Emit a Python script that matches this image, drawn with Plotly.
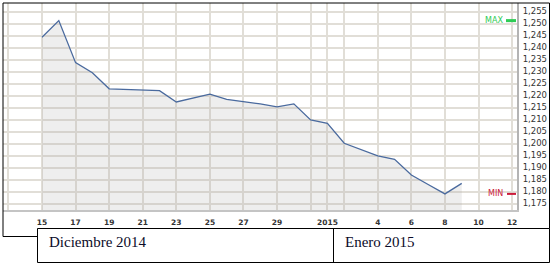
import plotly.graph_objects as go

# ---- data ----
dates = ["2014-12-15", "2014-12-16", "2014-12-17", "2014-12-18", "2014-12-19",
         "2014-12-20", "2014-12-21", "2014-12-22", "2014-12-23", "2014-12-24",
         "2014-12-25", "2014-12-26", "2014-12-27", "2014-12-28", "2014-12-29",
         "2014-12-30", "2014-12-31", "2015-01-01", "2015-01-02", "2015-01-03",
         "2015-01-04", "2015-01-05", "2015-01-06", "2015-01-07", "2015-01-08",
         "2015-01-09"]
values = [1.2443, 1.2512, 1.2337, 1.2295, 1.2228,
          1.2226, 1.2225, 1.2220, 1.2173, 1.2190,
          1.2206, 1.2184, 1.2176, 1.2165, 1.2153,
          1.2165, 1.2098, 1.2084, 1.2001, 1.1974,
          1.1948, 1.1934, 1.1869, 1.1829, 1.1790,
          1.1834]

x_tick_dates = ["2014-12-13", "2014-12-15", "2014-12-17", "2014-12-19", "2014-12-21",
                "2014-12-23", "2014-12-25", "2014-12-27", "2014-12-29", "2014-12-31",
                "2015-01-01", "2015-01-02", "2015-01-04", "2015-01-06", "2015-01-08",
                "2015-01-10", "2015-01-12"]
x_tick_labels = ["", "15", "17", "19", "21", "23", "25", "27", "29", "",
                 "2015", "", "4", "6", "8", "10", "12"]

y_tick_values = [1.175, 1.180, 1.185, 1.190, 1.195, 1.200, 1.205, 1.210, 1.215,
                 1.220, 1.225, 1.230, 1.235, 1.240, 1.245, 1.250, 1.255]
y_tick_labels = ["1,175", "1,180", "1,185", "1,190", "1,195", "1,200", "1,205",
                 "1,210", "1,215", "1,220", "1,225", "1,230", "1,235", "1,240",
                 "1,245", "1,250", "1,255"]

month_labels = ["Diciembre 2014", "Enero 2015"]

# ---- layout geometry (pixels) ----
W, H = 553, 266
L, R, T, B = 3, 517, 3, 210
pw, ph = R - L, B - T


def px(xp):
    return (xp - L) / pw


def py(yp):
    return (B - yp) / ph


fig = go.Figure()
fig.add_trace(go.Scatter(
    x=dates, y=values, mode="lines",
    line=dict(color="#4a6a9e", width=1.3),
    fill="tozeroy", fillcolor="rgba(170,170,170,0.2)",
    hoverinfo="skip", showlegend=False,
))

vmax, vmin = max(values), min(values)

shapes = []
line_black = dict(color="black", width=1)
# outer frame
shapes += [
    dict(type="line", xref="paper", yref="paper", x0=px(3), x1=px(549.5), y0=py(3), y1=py(3), line=line_black),
    dict(type="line", xref="paper", yref="paper", x0=px(3), x1=px(3), y0=py(3), y1=py(236.5), line=line_black),
    dict(type="line", xref="paper", yref="paper", x0=px(3), x1=px(37.5), y0=py(236.5), y1=py(236.5), line=line_black),
    dict(type="line", xref="paper", yref="paper", x0=px(549.5), x1=px(549.5), y0=py(3), y1=py(228.5), line=line_black),
    dict(type="rect", xref="paper", yref="paper", x0=px(37.5), x1=px(549.5), y0=py(228.5), y1=py(262.5), line=line_black),
    dict(type="line", xref="paper", yref="paper", x0=px(333.5), x1=px(333.5), y0=py(228.5), y1=py(262.5), line=line_black),
]
# MAX / MIN markers
shapes += [
    dict(type="line", xref="paper", yref="y", x0=px(506), x1=px(516), y0=vmax, y1=vmax,
         line=dict(color="#2ecc55", width=3)),
    dict(type="line", xref="paper", yref="y", x0=px(507), x1=px(516), y0=vmin, y1=vmin,
         line=dict(color="#cc1a3a", width=2)),
]
for s in shapes:
    s["layer"] = "above"

annotations = [
    dict(text="MAX", xref="paper", yref="y", x=px(505), y=vmax, xanchor="right", yanchor="middle",
         showarrow=False, font=dict(family="DejaVu Sans", size=8, color="#2ecc55")),
    dict(text="MIN", xref="paper", yref="y", x=px(505), y=vmin, xanchor="right", yanchor="middle",
         showarrow=False, font=dict(family="DejaVu Sans", size=8, color="#cc1a3a")),
    dict(text=month_labels[0], xref="paper", yref="paper", x=px(47), y=py(242), xanchor="left",
         yanchor="middle", showarrow=False,
         font=dict(family="Liberation Serif", size=15, color="#0b0b28")),
    dict(text=month_labels[1], xref="paper", yref="paper", x=px(343), y=py(242), xanchor="left",
         yanchor="middle", showarrow=False,
         font=dict(family="Liberation Serif", size=15, color="#0b0b28")),
]

grid_col = "#e1ded7"
fig.update_layout(
    width=W, height=H,
    margin=dict(l=L, r=W - R, t=T, b=H - B, pad=0),
    paper_bgcolor="white", plot_bgcolor="white",
    shapes=shapes, annotations=annotations,
    xaxis=dict(
        type="date", range=["2014-12-12 16:15", "2015-01-12 07:00"],
        tickmode="array", tickvals=x_tick_dates, ticktext=x_tick_labels,
        showgrid=True, gridcolor=grid_col, gridwidth=1.5,
        showline=True, linecolor="#c4c4c4", linewidth=2,
        ticks="", ticklabelstandoff=4,
        tickfont=dict(family="DejaVu Sans", size=7.5, color="#333333", weight="bold"),
        zeroline=False, fixedrange=True,
    ),
    yaxis=dict(
        side="right", range=[1.17229, 1.25854],
        tickmode="array", tickvals=y_tick_values, ticktext=y_tick_labels,
        showgrid=True, gridcolor=grid_col, gridwidth=1.5,
        showline=True, linecolor="#b4b4b4", linewidth=2,
        ticks="", ticklabelstandoff=2,
        tickfont=dict(family="DejaVu Sans", size=8.5, color="#333333"),
        zeroline=False, fixedrange=True,
    ),
)

fig.write_html("out.html", config={"displayModeBar": False})
